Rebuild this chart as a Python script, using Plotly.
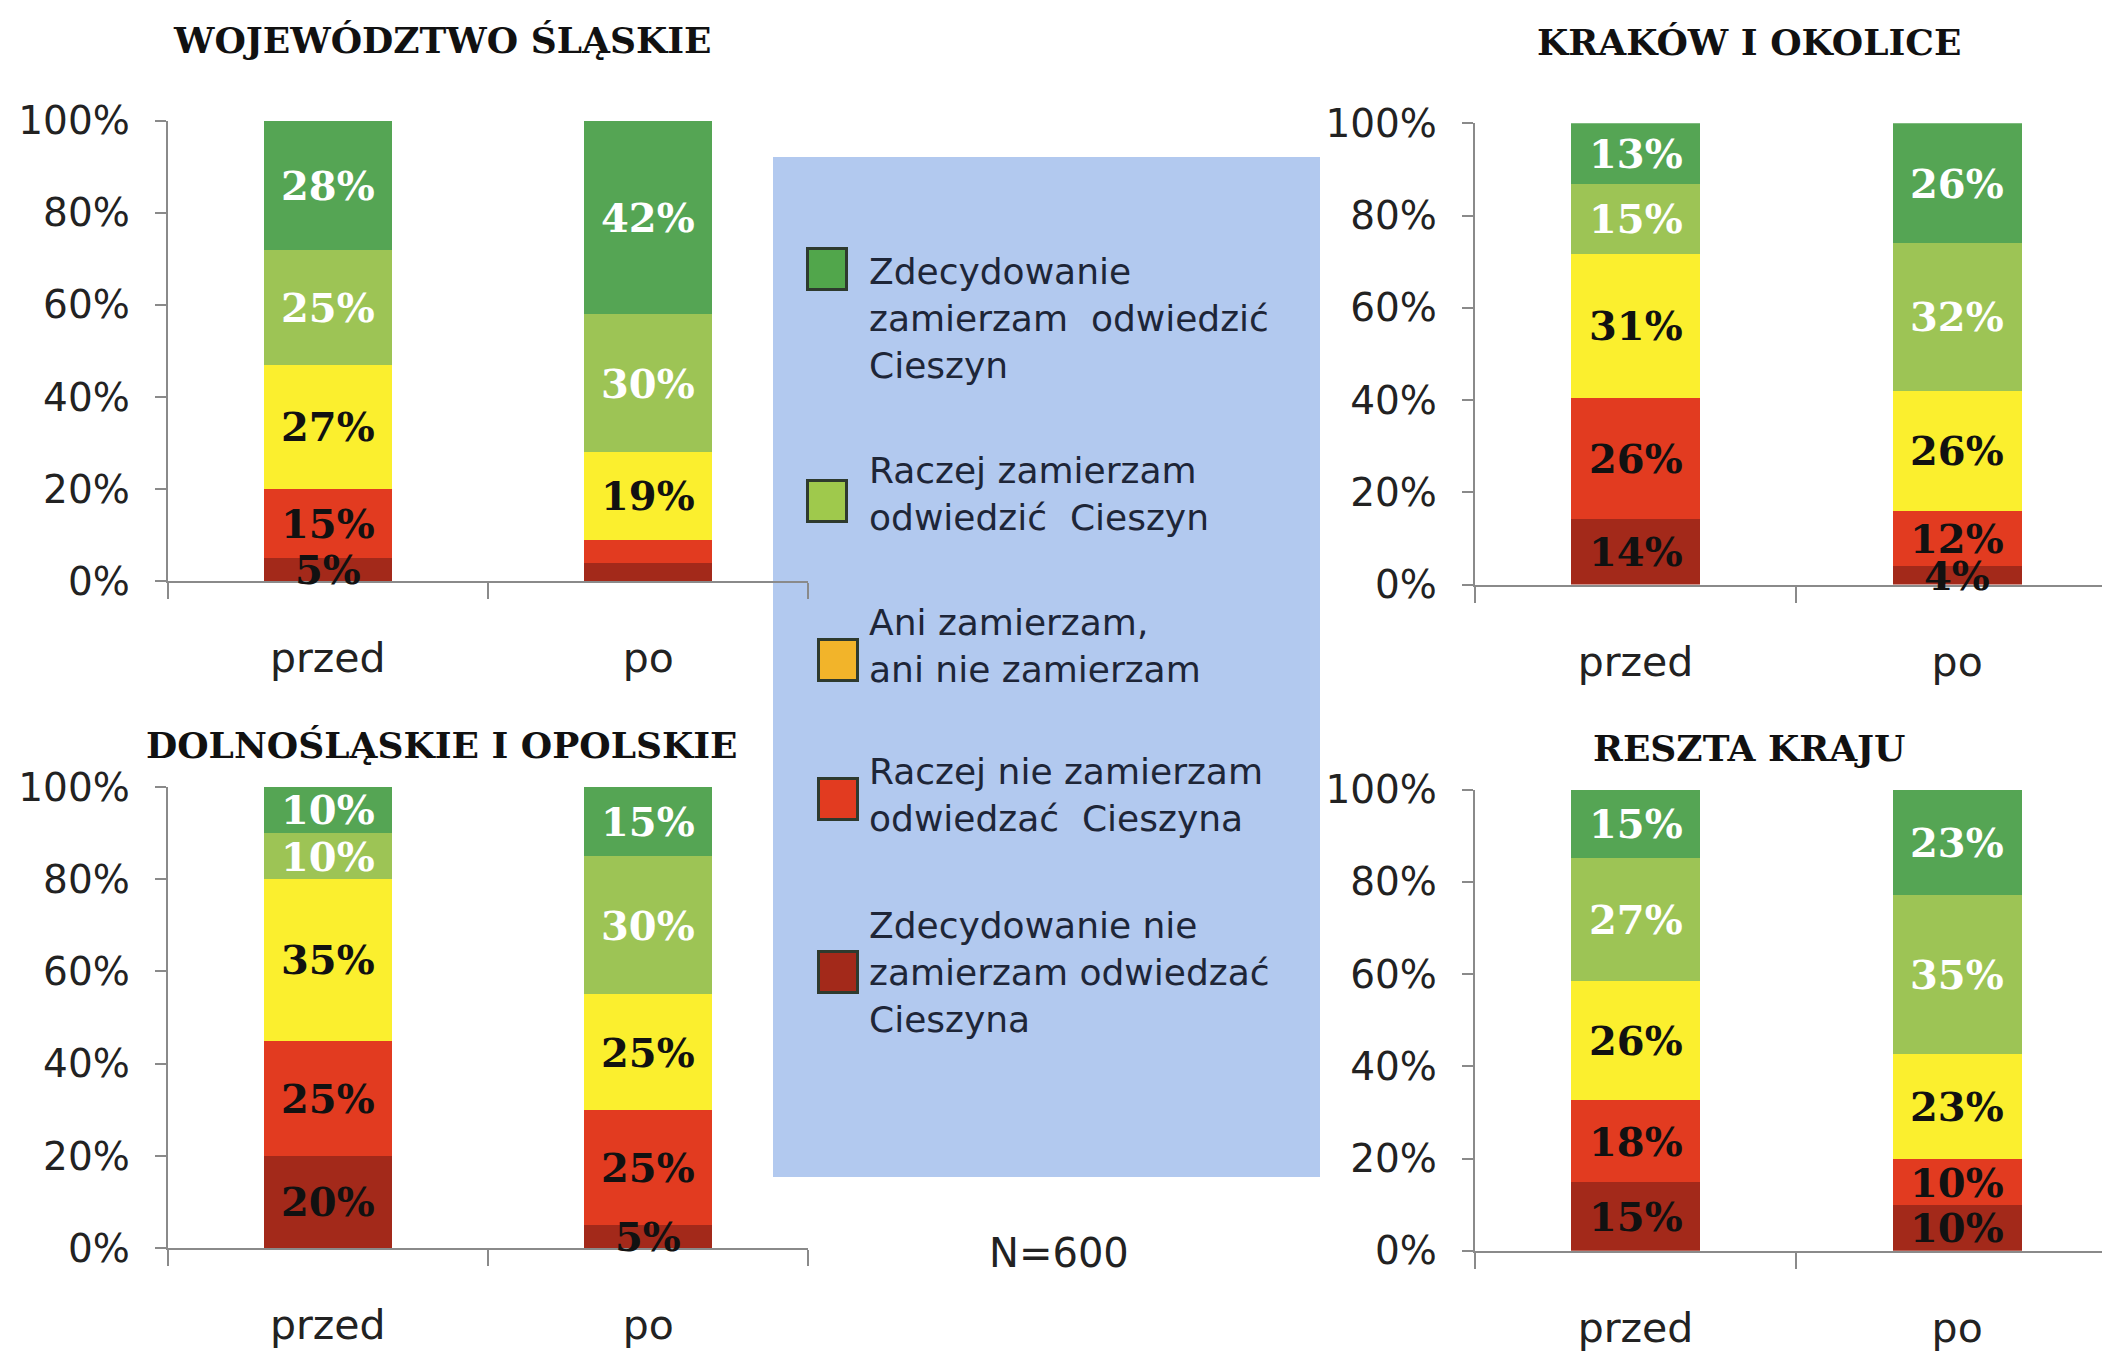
import plotly.graph_objects as go

W, H = 2102, 1357

# ---------------- data ----------------
categories = ["przed", "po"]

# series, stacked bottom -> top
series_names = [
    "Zdecydowanie nie zamierzam odwiedzać Cieszyna",
    "Raczej nie zamierzam odwiedzać Cieszyna",
    "Ani zamierzam, ani nie zamierzam",
    "Raczej zamierzam odwiedzić Cieszyn",
    "Zdecydowanie zamierzam odwiedzić Cieszyn",
]
bar_colors = ["#a3291a", "#e23b20", "#fbef2e", "#9dc455", "#55a554"]
label_colors = ["#111111", "#111111", "#111111", "#ffffff", "#ffffff"]

region_titles = ["WOJEWÓDZTWO ŚLĄSKIE", "KRAKÓW I OKOLICE",
                 "DOLNOŚLĄSKIE I OPOLSKIE", "RESZTA KRAJU"]

# values per series (bottom -> top) for przed / po
slaskie_przed = [5, 15, 27, 25, 28]
slaskie_po = [4, 5, 19, 30, 42]
krakow_przed = [14, 26, 31, 15, 13]
krakow_po = [4, 12, 26, 32, 26]
dolno_przed = [20, 25, 35, 10, 10]
dolno_po = [5, 25, 25, 30, 15]
reszta_przed = [15, 18, 26, 27, 15]
reszta_po = [10, 10, 23, 35, 23]

# series indices whose label is not printed on the "po" bar of Śląskie
slaskie_po_unlabeled = [0, 1]

y_ticks = [0, 20, 40, 60, 80, 100]
y_tick_labels = ["0%", "20%", "40%", "60%", "80%", "100%"]

# legend (top -> bottom)
legend_texts = [
    "Zdecydowanie<br>zamierzam\u00a0 odwiedzić<br>Cieszyn",
    "Raczej zamierzam<br>odwiedzić\u00a0 Cieszyn",
    "Ani zamierzam,<br>ani nie zamierzam",
    "Raczej nie zamierzam<br>odwiedzać\u00a0 Cieszyna",
    "Zdecydowanie nie<br>zamierzam odwiedzać<br>Cieszyna",
]
legend_colors = ["#51a64b", "#9fc94c", "#f2b42a", "#e23b20", "#a3291a"]
sample_note = "N=600"

panel_values = [
    (slaskie_przed, slaskie_po),
    (krakow_przed, krakow_po),
    (dolno_przed, dolno_po),
    (reszta_przed, reszta_po),
]

# ---------------- layout geometry (pixels) ----------------
# x0, x1 (end of category axis, may run off page), y_top(100%), y_bottom(0%)
panels_px = [
    (167.6, 808.4, 120.7, 581.0),
    (1474.7, 2118.0, 123.3, 584.5),
    (167.6, 808.4, 786.9, 1248.1),
    (1474.7, 2118.0, 789.6, 1250.8),
]
title_px = [(442, 40), (1749, 42), (442, 745), (1749, 748)]

AX = "#8a8a8a"
TICK_FONT = dict(family="DejaVu Sans", size=39, color="#222222")
CAT_FONT = dict(family="DejaVu Sans", size=41, color="#222222")
LBL_FAMILY = "DejaVu Serif"

fig = go.Figure()

for p, (vals_przed, vals_po) in enumerate(panel_values):
    n = p + 1
    xa = "x" if n == 1 else f"x{n}"
    ya = "y" if n == 1 else f"y{n}"
    for s in range(len(series_names)):
        ys = [vals_przed[s], vals_po[s]]
        fig.add_trace(go.Bar(
            x=categories, y=ys, name=series_names[s],
            marker=dict(color=bar_colors[s], line=dict(width=0)),
            width=0.4, xaxis=xa, yaxis=ya, showlegend=False,
            hoverinfo="skip",
        ))
    # value labels centred in each (normalised) segment
    for c, vals in enumerate((vals_przed, vals_po)):
        total = float(sum(vals))
        cum = 0.0
        for s, v in enumerate(vals):
            mid = (cum + v / 2.0) * 100.0 / total
            cum += v
            if p == 0 and c == 1 and s in slaskie_po_unlabeled:
                continue
            fig.add_annotation(
                x=categories[c], y=mid, xref=xa, yref=ya, text=f"<b>{v}%</b>",
                showarrow=False, xanchor="center", yanchor="middle",
                font=dict(family=LBL_FAMILY, size=40, color=label_colors[s]))

    x0, x1, yt, yb = panels_px[p]
    unit = (x1 - x0) / 2.0
    x1c = min(x1, W)
    xr = [-0.5, -0.5 + (x1c - x0) / unit]
    xkey = "xaxis" if n == 1 else f"xaxis{n}"
    ykey = "yaxis" if n == 1 else f"yaxis{n}"
    fig.update_layout({
        xkey: dict(domain=[x0 / W, x1c / W], anchor=ya, type="category",
                   range=xr, showline=True, linecolor=AX, linewidth=2,
                   ticks="outside", tickson="boundaries", ticklen=16,
                   tickcolor=AX, tickwidth=2, tickfont=CAT_FONT,
                   ticklabelstandoff=40, showgrid=False, zeroline=False,
                   automargin=False, fixedrange=True),
        ykey: dict(domain=[1 - yb / H, 1 - yt / H], anchor=xa,
                   range=[0, 100], tickmode="array", tickvals=y_ticks,
                   ticktext=y_tick_labels, showline=True, linecolor=AX,
                   linewidth=2, ticks="outside", ticklen=11, tickcolor=AX,
                   tickwidth=2, tickfont=TICK_FONT, ticklabelstandoff=17,
                   showgrid=False, zeroline=False, automargin=False,
                   fixedrange=True),
    })
    tx, ty = title_px[p]
    fig.add_annotation(x=tx / W, y=1 - ty / H, xref="paper", yref="paper",
                       text=f"<b>{region_titles[p]}</b>", showarrow=False,
                       xanchor="center", yanchor="middle",
                       font=dict(family=LBL_FAMILY, size=36, color="#111111"))

# ---------------- legend box ----------------
box = (773, 157, 1320, 1177)
fig.add_shape(type="rect", xref="paper", yref="paper", layer="below",
              x0=box[0] / W, x1=box[2] / W, y0=1 - box[3] / H, y1=1 - box[1] / H,
              fillcolor="#b2c9ef", line=dict(width=0))

legend_marker_px = [(827, 269), (827, 501), (838, 660), (838, 799), (838, 972)]
legend_text_px = [(867, 319), (867, 494), (867, 646), (867, 795), (867, 972)]
MW, MH = 19.5, 20.5
for i in range(len(legend_texts)):
    mx, my = legend_marker_px[i]
    fig.add_shape(type="rect", xref="paper", yref="paper", layer="above",
                  x0=(mx - MW) / W, x1=(mx + MW) / W,
                  y0=1 - (my + MH) / H, y1=1 - (my - MH) / H,
                  fillcolor=legend_colors[i], line=dict(color="#2e3a2e", width=3))
    lx, ly = legend_text_px[i]
    fig.add_annotation(x=lx / W, y=1 - ly / H, xref="paper", yref="paper",
                       text=legend_texts[i], showarrow=False, align="left",
                       xanchor="left", yanchor="middle",
                       font=dict(family="DejaVu Sans", size=36, color="#1e2638"))

fig.add_annotation(x=1059 / W, y=1 - 1253 / H, xref="paper", yref="paper",
                   text=sample_note, showarrow=False, xanchor="center",
                   yanchor="middle", font=dict(family="DejaVu Sans", size=40,
                                               color="#222222"))

fig.update_layout(
    width=W, height=H,
    margin=dict(l=0, r=0, t=0, b=0, pad=0, autoexpand=False),
    paper_bgcolor="white", plot_bgcolor="rgba(0,0,0,0)",
    barmode="stack", barnorm="percent",
    showlegend=False,
)

fig.write_html("out.html", config={"displayModeBar": False},
               post_script="document.body.style.margin='0';document.body.style.overflow='hidden';")
